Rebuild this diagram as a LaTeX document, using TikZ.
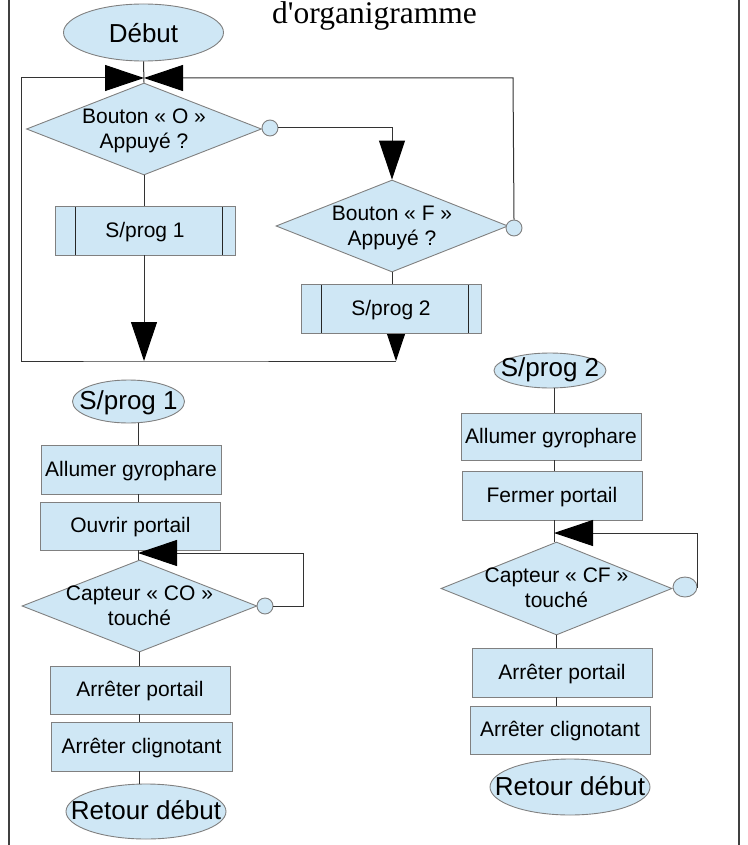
\documentclass[tikz,border=0pt]{standalone}
\usepackage{fontspec}
\setmainfont{Liberation Serif}[Ligatures=TeXOff]
\newfontfamily\lsans{Liberation Sans}
\usetikzlibrary{shapes.geometric,arrows.meta,backgrounds}
\definecolor{shapefill}{HTML}{CFE7F5}
\definecolor{shapeborder}{HTML}{808080}
\definecolor{linecol}{HTML}{333333}
\newcommand{\zbox}[1]{\makebox[0pt]{#1}}
\newcommand{\ztwo}[2]{\smash{\makebox[0pt]{\raisebox{-7pt}{\begin{tabular}{@{}c@{}}#1\\#2\end{tabular}}}}}
\tikzset{
  base/.style={draw=shapeborder, fill=shapefill, line width=0.9pt, inner sep=0pt,
    font=\lsans\fontsize{21}{25}\selectfont},
  procbox/.style={base, rectangle, minimum width=180pt, minimum height=49pt,
    text height=16pt, text depth=3pt},
  subbox/.style={procbox, path picture={
    \draw[line width=1pt, black!85]
      ([xshift=20pt]path picture bounding box.north west) -- ([xshift=20pt]path picture bounding box.south west)
      ([xshift=-13pt]path picture bounding box.north east) -- ([xshift=-13pt]path picture bounding box.south east);}},
  decis/.style={base, diamond, minimum width=235pt, minimum height=92pt},
  term/.style={base, ellipse, font=\lsans\fontsize{26}{30}\selectfont,
    text height=20pt, text depth=4pt},
  notc/.style={base, circle, minimum size=16pt},
  conn/.style={draw=linecol, line width=1pt},
  flow/.style={conn, -{Triangle[length=39pt,width=26pt,color=black]}},
  framel/.style={draw=black!75, line width=1.3pt}
}
\begin{document}
\begin{tikzpicture}[x=1pt,y=-1pt]
\useasboundingbox (0,0) rectangle (747,845);
% page frame
\draw[framel] (9,0) -- (9,845);
\draw[framel] (739,0) -- (739,845);
% title
\node[anchor=base, font=\fontsize{31.5}{36}\selectfont, inner sep=0pt] (title) at (374.5,24) {d'organigramme};

% ---- main flowchart ----
\node[term, minimum width=160pt, minimum height=57pt, text height=25pt] (debut) at (143.5,32.5) {\zbox{Début}};
\node[decis] (dO) at (144,129) {\ztwo{Bouton « O »}{Appuyé ?}};
\node[notc] (cO) at (270,128) {};
\node[decis, minimum width=232pt] (dF) at (392,226) {\ztwo{Bouton « F »}{Appuyé ?}};
\node[notc] (cF) at (514,228) {};
\node[subbox] (sp1box) at (145,230.5) {\zbox{S/prog 1}};
\node[subbox] (sp2box) at (391,308.5) {\zbox{S/prog 2}};

\coordinate (jtop) at (144,78);
\coordinate (kL) at (21,78);
\coordinate (kR) at (513,78);
\coordinate (j1) at (144,361);
\coordinate (j2) at (396,361);

% ---- sub-program 1 ----
\node[term, minimum width=112pt, minimum height=43pt] (sp1e) at (128.5,401.5) {\zbox{S/prog 1}};
\node[procbox] (ag1) at (131,469.5) {\zbox{Allumer gyrophare}};
\node[procbox, minimum height=48pt] (op) at (130.5,526) {\zbox{Ouvrir portail}};
\node[decis] (dCO) at (139.5,606) {\ztwo{Capteur « CO »}{touché}};
\node[notc] (cCO) at (265,606) {};
\node[procbox, minimum height=48pt] (ap1) at (140,690) {\zbox{Arrêter portail}};
\node[procbox, minimum width=181pt] (ac1) at (141.5,746.5) {\zbox{Arrêter clignotant}};
\node[term, minimum width=160pt, minimum height=55pt] (rd1) at (146,811.5) {\zbox{Retour début}};
\coordinate (colL) at (138,0);
\coordinate (colL2) at (139,0);
\coordinate (jCO) at (138,553);
\coordinate (kCO) at (303,553);

% ---- sub-program 2 ----
\node[term, minimum width=112pt, minimum height=35pt, text height=15pt] (sp2e) at (550,370.5) {\zbox{S/prog 2}};
\node[procbox, minimum height=47pt] (ag2) at (551,436.5) {\zbox{Allumer gyrophare}};
\node[procbox] (fp) at (552,495.5) {\zbox{Fermer portail}};
\node[decis, minimum width=231pt, minimum height=93pt] (dCF) at (556.5,588.5) {\ztwo{Capteur « CF »}{touché}};
\node[base, ellipse, minimum width=24pt, minimum height=20pt] (cCF) at (685,587) {};
\node[procbox] (ap2) at (562,672.5) {\zbox{Arrêter portail}};
\node[procbox, minimum height=48pt] (ac2) at (560,730) {\zbox{Arrêter clignotant}};
\node[term, minimum width=160pt, minimum height=56pt] (rd2) at (570,787) {\zbox{Retour début}};
\coordinate (colR) at (554,0);
\coordinate (colR2) at (556.5,0);
\coordinate (jCF) at (554,533);
\coordinate (kCF) at (697,533);

% ---- connectors: main ----
\begin{scope}[on background layer]
  \draw[flow] (j2 |- sp2box.center) -- (j2);
\end{scope}
\draw[conn] (debut.south) -- (dO.north);
\draw[conn] (dO.south) -- (dO.south |- sp1box.north);
\draw[flow] (j1 |- sp1box.south) -- (j1);
\draw[conn] (j2) -- (j1) -- (j1 -| kL) -- (kL);
\draw[flow] (kL) -- (jtop);
\draw[flow] (cF.north) -- (kR) -- (jtop);
\draw[flow] (cO.east) -| (dF.north);
\draw[conn] (dF.south) -- (dF.south |- sp2box.north);

% ---- connectors: sub-program 1 ----
\draw[conn] (colL |- sp1e.south) -- (colL |- ag1.north);
\draw[conn] (colL |- ag1.south) -- (colL |- op.north);
\draw[conn] (colL |- op.south) -- (colL |- dCO.north);
\draw[conn] (colL2 |- dCO.south) -- (colL2 |- ap1.north);
\draw[conn] (colL2 |- ap1.south) -- (colL2 |- ac1.north);
\draw[conn] (colL2 |- ac1.south) -- (colL2 |- rd1.north);
\draw[flow] (cCO.east) -| (kCO) -- (jCO);

% ---- connectors: sub-program 2 ----
\draw[conn] (colR |- sp2e.south) -- (colR |- ag2.north);
\draw[conn] (colR |- ag2.south) -- (colR |- fp.north);
\draw[conn] (colR |- fp.south) -- (colR |- dCF.north);
\draw[conn] (colR2 |- dCF.south) -- (colR2 |- ap2.north);
\draw[conn] (colR2 |- ap2.south) -- (colR2 |- ac2.north);
\draw[flow] (cCF.east) -| (kCF) -- (jCF);
\end{tikzpicture}
\end{document}
